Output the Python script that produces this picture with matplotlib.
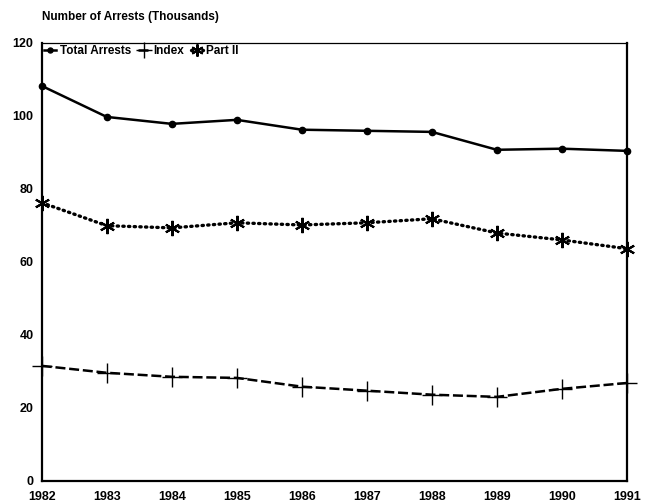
import matplotlib
matplotlib.use("Agg")
import matplotlib.pyplot as plt

years = [1982, 1983, 1984, 1985, 1986, 1987, 1988, 1989, 1990, 1991]
total_arrests = [108.2, 99.7, 97.8, 98.9, 96.2, 95.9, 95.6, 90.7, 91.0, 90.4]
index_arrests = [31.5, 29.6, 28.5, 28.2, 25.8, 24.7, 23.6, 23.0, 25.2, 26.8]
part2_arrests = [76.2, 69.9, 69.3, 70.7, 70.1, 70.7, 71.8, 67.9, 66.0, 63.6]
y_ticks = [0, 20, 40, 60, 80, 100, 120]

plt.rcParams["font.family"] = ["Liberation Sans", "DejaVu Sans"]
plt.rcParams["font.weight"] = "bold"

fig = plt.figure(figsize=(6.53, 5.04), dpi=100)
ax = fig.add_axes([0.064, 0.046, 0.896, 0.869])

ax.plot(years, total_arrests, color="black", lw=1.8, marker="o", ms=4.5,
        label="Total Arrests", clip_on=False, zorder=3)
ax.plot(years, index_arrests, color="black", lw=1.8, ls=(0, (4, 1.5)),
        marker="+", ms=14, mew=1.0, label="Index", clip_on=False, zorder=3)
ax.plot(years, part2_arrests, color="black", lw=2.4, ls=(0, (0.4, 1.3)),
        dash_capstyle="round", marker=(6, 2, 0), ms=11, mew=1.5,
        label="Part II", clip_on=False, zorder=3)

ax.set_xlim(1982, 1991)
ax.set_ylim(0, 120)
ax.set_xticks(years)
ax.set_yticks(y_ticks)
ax.tick_params(length=0, labelsize=9)
ax.tick_params(axis="x", pad=7)
ax.tick_params(axis="y", pad=6)
for lab in ax.get_xticklabels() + ax.get_yticklabels():
    lab.set_fontweight("bold")

for side in ["left", "right", "bottom"]:
    ax.spines[side].set_linewidth(1.6)
ax.spines["top"].set_linewidth(0.9)

ax.legend(loc="upper left", ncol=3, frameon=False,
          handlelength=1.0, handletextpad=0.3, columnspacing=0.6,
          borderaxespad=0.1, borderpad=0.1, markerscale=0.8,
          prop={"weight": "bold", "size": 8.5})

fig.text(0.064, 0.966, "Number of Arrests (Thousands)", fontsize=8.5,
         fontweight="bold", ha="left", va="center")

fig.savefig("out.png", dpi=100)
